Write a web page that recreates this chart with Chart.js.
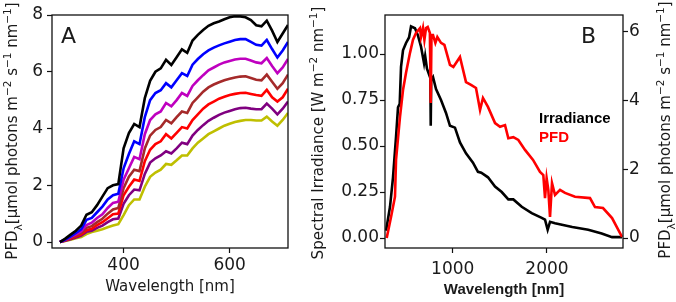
<!DOCTYPE html>
<html>
<head>
<meta charset="utf-8">
<script src="https://cdn.jsdelivr.net/npm/chart.js@4.4.1/dist/chart.umd.min.js"></script>
<style>
html,body{margin:0;padding:0;background:#fff;}
#wrap{position:relative;width:676px;height:302px;}
canvas{position:absolute;left:0;top:0;}
</style>
</head>
<body>
<div id="wrap">
<canvas id="cA" width="676" height="302"></canvas>
<canvas id="cB" width="676" height="302"></canvas>
</div>
<script>
// ---------- Panel A data ----------
const wavelengthA = [280,290,300,310,320,330,340,350,360,370,380,390,400,410,420,430,440,450,460,470,480,490,500,510,520,530,540,550,560,570,580,590,600,610,620,630,640,650,660,670,680,690,700,710];
const pfdBlack   = [0,0.12,0.26,0.4,0.58,0.96,1.05,1.3,1.6,1.9,2.0,2.04,3.3,3.84,4.16,4.05,5.07,5.68,6.0,6.12,6.42,6.24,6.51,6.79,6.67,7.1,7.3,7.47,7.62,7.71,7.77,7.85,7.92,7.96,7.95,7.92,7.82,7.64,7.6,7.8,7.45,7.05,7.35,7.65];
const pfdBlue    = [0,0.09,0.2,0.32,0.45,0.78,0.85,1.05,1.25,1.5,1.65,1.7,2.6,3.1,3.55,3.45,4.4,5.0,5.25,5.35,5.6,5.45,5.7,5.95,5.85,6.25,6.45,6.62,6.75,6.85,6.93,7.0,7.06,7.12,7.15,7.15,7.05,6.95,6.92,7.12,6.8,6.5,6.75,7.05];
const pfdMagenta = [0,0.08,0.17,0.27,0.38,0.6,0.68,0.85,0.98,1.2,1.38,1.42,2.2,2.6,3.0,2.92,3.8,4.3,4.5,4.6,4.9,4.78,5.0,5.25,5.15,5.5,5.7,5.88,6.05,6.15,6.25,6.33,6.38,6.43,6.46,6.46,6.4,6.33,6.3,6.48,6.2,5.95,6.15,6.45];
const pfdBrown   = [0,0.07,0.15,0.23,0.32,0.5,0.56,0.7,0.82,1.0,1.15,1.2,1.9,2.3,2.55,2.5,3.3,3.75,3.95,4.05,4.3,4.18,4.4,4.6,4.55,4.9,5.1,5.3,5.45,5.55,5.63,5.7,5.75,5.8,5.83,5.84,5.78,5.72,5.7,5.9,5.65,5.4,5.6,5.9];
const pfdRed     = [0,0.06,0.12,0.19,0.27,0.42,0.47,0.6,0.7,0.84,0.98,1.0,1.65,1.95,2.2,2.15,2.85,3.25,3.45,3.55,3.8,3.65,3.85,4.05,4.0,4.3,4.5,4.7,4.85,4.95,5.05,5.12,5.18,5.22,5.25,5.26,5.22,5.18,5.15,5.36,5.1,4.95,5.1,5.4];
const pfdPurple  = [0,0.05,0.1,0.16,0.23,0.36,0.4,0.5,0.58,0.7,0.8,0.83,1.35,1.65,1.85,1.82,2.4,2.8,2.95,3.05,3.2,3.12,3.3,3.5,3.45,3.75,3.95,4.12,4.27,4.38,4.48,4.56,4.62,4.68,4.72,4.73,4.7,4.68,4.68,4.88,4.7,4.5,4.7,4.95];
const pfdYellow  = [0,0.04,0.08,0.13,0.18,0.28,0.35,0.4,0.45,0.52,0.58,0.63,0.95,1.3,1.5,1.5,1.95,2.3,2.45,2.55,2.75,2.72,2.88,3.05,3.05,3.3,3.5,3.65,3.8,3.9,4.0,4.1,4.17,4.23,4.27,4.3,4.3,4.28,4.28,4.42,4.25,4.1,4.3,4.55];
const xTicksA = [400, 600];
const yTicksA = [0, 2, 4, 6, 8];

// ---------- Panel B data ----------
const irrWl   = [293,335,367,399,420,438,452,473,505,537,558,600,632,664,696,708,727,759,763,767,772,791,823,876,929,971,1024,1077,1141,1215,1268,1303,1374,1449,1520,1590,1643,1732,1838,1944,1979,2007,2032,2085,2268,2437,2580,2690,2796];
const irrVals = [0.04,0.17,0.33,0.55,0.71,0.73,0.93,1.02,1.06,1.09,1.15,1.14,1.10,1.04,0.95,0.99,0.92,0.875,0.87,0.61,0.86,0.875,0.81,0.75,0.68,0.61,0.60,0.52,0.46,0.41,0.36,0.355,0.33,0.28,0.25,0.21,0.21,0.17,0.135,0.11,0.10,0.045,0.088,0.08,0.06,0.045,0.025,0.005,0.005];
const pfdWl   = [300,346,388,399,441,473,505,547,579,611,653,664,685,700,717,735,758,767,775,791,816,837,876,912,971,1007,1077,1141,1194,1247,1290,1321,1374,1449,1502,1555,1590,1643,1696,1767,1852,1926,1961,1979,1996,2014,2032,2053,2085,2138,2191,2297,2456,2509,2594,2690,2796];
const pfdVals = [0,0.61,1.2,2.27,3.52,4.3,4.8,5.38,5.76,5.96,6.1,5.84,6.1,5.76,6.1,6.13,5.96,3.92,5.9,5.9,5.67,5.84,5.67,5.61,5.03,4.97,5.26,4.53,4.45,4.36,3.72,4.07,3.81,3.34,3.23,3.28,2.9,2.93,2.85,2.56,2.27,1.92,1.83,1.16,1.74,1.4,0.61,1.6,1.25,1.4,1.31,1.2,1.16,0.9,0.87,0.58,0.03];
const xTicksB = [1000, 2000];
const yTicksBLeft = [0, 0.25, 0.5, 0.75, 1.0];
const yTicksBRight = [0, 2, 4, 6];

// ---------- helpers ----------
const DV = '"DejaVu Sans"';
const TXT = '#1a1a1a';
const TICK = 17;
function pts(xs, ys){ return xs.map((x,i)=>({x:x, y:ys[i]})); }
function fixedTicks(arr){ return function(scale){ scale.ticks = arr.map(v=>({value:v})); }; }
function line(label, xs, ys, color, axis){
  const d = {label:label, data:pts(xs,ys), borderColor:color, backgroundColor:color, borderWidth:2.6, pointRadius:0, tension:0, fill:false};
  if (axis) d.yAxisID = axis;
  return d;
}
function tickGrid(){ return {display:true, drawOnChartArea:false, drawTicks:true, tickLength:5, tickColor:'#111', tickWidth:1.2}; }

function richVertical(ctx, cx, cy, segs, size){
  ctx.save();
  ctx.translate(cx, cy);
  ctx.rotate(-Math.PI/2);
  ctx.textBaseline = 'alphabetic';
  ctx.fillStyle = TXT;
  let total = 0;
  const f = s => ((s.sub||s.sup) ? (size*0.7).toFixed(1) : size) + 'px ' + DV;
  for (const s of segs){ ctx.font = f(s); s.w = ctx.measureText(s.t).width; total += s.w; }
  let x = -total/2;
  for (const s of segs){
    ctx.font = f(s);
    const dy = s.sup ? -size*0.42 : (s.sub ? size*0.3 : 0);
    ctx.fillText(s.t, x, size*0.36 + dy);
    x += s.w;
  }
  ctx.restore();
}
const pfdTitle = [{t:'PFD'},{t:'λ',sub:true},{t:'[μmol photons m'},{t:'−2',sup:true},{t:' s'},{t:'−1',sup:true},{t:' nm'},{t:'−1',sup:true},{t:']'}];
const irrTitle = [{t:'Spectral Irradiance [W m'},{t:'−2',sup:true},{t:' nm'},{t:'−1',sup:true},{t:']'}];

const framePlugin = {
  id:'frame',
  afterDraw(chart){
    const a = chart.chartArea, ctx = chart.ctx;
    ctx.save();
    ctx.strokeStyle = '#111';
    ctx.lineWidth = 1.3;
    ctx.strokeRect(a.left, a.top, a.right-a.left, a.bottom-a.top);
    ctx.restore();
  }
};

// ---------- Panel A ----------
new Chart(document.getElementById('cA'), {
  type:'line',
  data:{datasets:[
    line('black', wavelengthA, pfdBlack, '#000000'),
    line('blue', wavelengthA, pfdBlue, '#0000ff'),
    line('magenta', wavelengthA, pfdMagenta, '#bf00bf'),
    line('brown', wavelengthA, pfdBrown, '#a52a2a'),
    line('red', wavelengthA, pfdRed, '#ff0000'),
    line('purple', wavelengthA, pfdPurple, '#800080'),
    line('yellow', wavelengthA, pfdYellow, '#bfbf00')
  ]},
  options:{
    responsive:false, animation:false, devicePixelRatio:1,
    layout:{padding:{left:0, top:15, right:388, bottom:0}},
    plugins:{legend:{display:false}, tooltip:{enabled:false}},
    scales:{
      x:{type:'linear', min:265, max:710,
        afterBuildTicks:fixedTicks(xTicksA),
        afterFit:s=>{s.height=54;},
        grid:tickGrid(), border:{display:false},
        ticks:{color:TXT, font:{family:DV, size:TICK}, padding:2, maxRotation:0, callback:v=>String(v)},
        title:{display:true, text:'Wavelength [nm]', color:TXT, font:{family:DV, size:15}, padding:{top:0,bottom:6}}
      },
      y:{type:'linear', min:-0.21, max:8,
        afterBuildTicks:fixedTicks(yTicksA),
        afterFit:s=>{s.width=52;},
        grid:tickGrid(), border:{display:false},
        ticks:{color:TXT, font:{family:DV, size:TICK}, padding:4, callback:v=>String(v)}
      }
    }
  },
  plugins:[framePlugin, {
    id:'textA',
    afterDraw(chart){
      const ctx = chart.ctx;
      richVertical(ctx, 12, 131, pfdTitle.map(s=>({...s})), 15);
      ctx.save();
      ctx.fillStyle = TXT; ctx.font = '22px ' + DV; ctx.textBaseline='alphabetic';
      ctx.fillText('A', 61, 43);
      ctx.restore();
    }
  }]
});

// ---------- Panel B ----------
new Chart(document.getElementById('cB'), {
  type:'line',
  data:{datasets:[
    line('PFD', pfdWl, pfdVals, '#ff0000', 'y1'),
    line('Irradiance', irrWl, irrVals, '#000000', 'y')
  ]},
  options:{
    responsive:false, animation:false, devicePixelRatio:1,
    layout:{padding:{left:300, top:15, right:0, bottom:0}},
    plugins:{legend:{display:false}, tooltip:{enabled:false}},
    scales:{
      x:{type:'linear', min:282, max:2806,
        afterBuildTicks:fixedTicks(xTicksB),
        afterFit:s=>{s.height=54;},
        grid:tickGrid(), border:{display:false},
        ticks:{color:TXT, font:{family:DV, size:TICK}, padding:6, maxRotation:0, callback:v=>String(v)},
        title:{display:true, text:'Wavelength [nm]', color:TXT, font:{family:'"Liberation Sans"', size:15, weight:'bold'}, padding:{top:0,bottom:3}}
      },
      y:{type:'linear', position:'left', min:-0.054, max:1.212,
        afterBuildTicks:fixedTicks(yTicksBLeft),
        afterFit:s=>{s.width=85;},
        grid:tickGrid(), border:{display:false},
        ticks:{color:TXT, font:{family:DV, size:TICK}, padding:1, callback:v=>Number(v).toFixed(2)}
      },
      y1:{type:'linear', position:'right', min:-0.29, max:6.48,
        afterBuildTicks:fixedTicks(yTicksBRight),
        afterFit:s=>{s.width=53;},
        grid:tickGrid(), border:{display:false},
        ticks:{color:TXT, font:{family:DV, size:TICK}, padding:1, callback:v=>String(v)}
      }
    }
  },
  plugins:[framePlugin, {
    id:'textB',
    afterDraw(chart){
      const ctx = chart.ctx;
      richVertical(ctx, 318, 133, irrTitle.map(s=>({...s})), 15);
      richVertical(ctx, 665, 130, pfdTitle.map(s=>({...s})), 15);
      ctx.save();
      ctx.textBaseline='alphabetic';
      ctx.fillStyle = TXT; ctx.font = '22px ' + DV;
      ctx.fillText('B', 581, 43);
      ctx.font = 'bold 15px "Liberation Sans"';
      ctx.fillStyle = '#000000';
      ctx.fillText('Irradiance', 539, 123);
      ctx.fillStyle = '#ff0000';
      ctx.fillText('PFD', 539, 142);
      ctx.restore();
    }
  }]
});
</script>
</body>
</html>
